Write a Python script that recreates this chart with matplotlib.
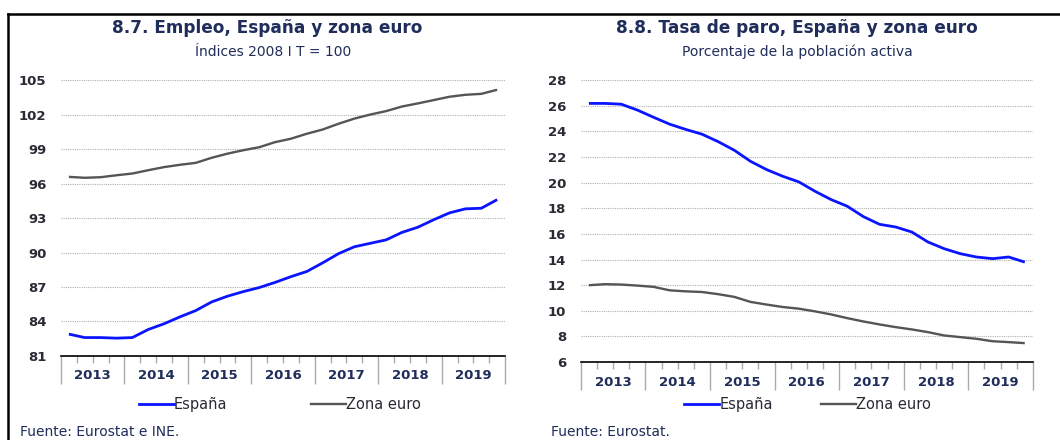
import numpy as np
import matplotlib
matplotlib.use('Agg')
import matplotlib.pyplot as plt
from matplotlib.lines import Line2D
from matplotlib.transforms import blended_transform_factory

# Datos trimestrales 2013 I T - 2019 IV T
years = ['2013', '2014', '2015', '2016', '2017', '2018', '2019']

empleo_espana = [82.9, 82.6, 82.6, 82.55, 82.6, 83.3, 83.8, 84.4,
                 84.95, 85.7, 86.2, 86.6, 86.95, 87.4, 87.9, 88.35,
                 89.1, 89.9, 90.5, 90.8, 91.1, 91.75, 92.2, 92.85,
                 93.45, 93.8, 93.85, 94.6]
empleo_euro = [96.58, 96.5, 96.55, 96.72, 96.87, 97.16, 97.43, 97.63,
               97.8, 98.24, 98.6, 98.9, 99.16, 99.6, 99.9, 100.33,
               100.7, 101.2, 101.65, 102.0, 102.3, 102.7, 102.97, 103.26,
               103.55, 103.72, 103.8, 104.16]

paro_espana = [26.18, 26.18, 26.12, 25.66, 25.1, 24.56, 24.15, 23.78,
               23.2, 22.53, 21.67, 21.02, 20.5, 20.06, 19.33, 18.68,
               18.16, 17.35, 16.75, 16.54, 16.15, 15.37, 14.85, 14.46,
               14.2, 14.07, 14.2, 13.8]
paro_euro = [12.0, 12.08, 12.05, 11.97, 11.87, 11.6, 11.52, 11.47,
             11.3, 11.09, 10.7, 10.49, 10.3, 10.17, 9.96, 9.72,
             9.43, 9.17, 8.94, 8.73, 8.55, 8.34, 8.08, 7.95,
             7.82, 7.63, 7.56, 7.48]

empleo_ticks = [81, 84, 87, 90, 93, 96, 99, 102, 105]
paro_ticks = [6, 8, 10, 12, 14, 16, 18, 20, 22, 24, 26, 28]

TXT = '#1f2d5a'
TICK = '#2a2a35'
AZUL = '#0a14ff'
GRIS = '#555555'

plt.rcParams['font.family'] = ['DejaVu Sans']

fig = plt.figure(figsize=(10.6, 4.4), dpi=100)


def panel(ax, s1, s2, ticks):
    n = len(s1)
    x = np.arange(n)
    ax.plot(x, s2, color=GRIS, lw=1.7, solid_capstyle='butt')
    ax.plot(x, s1, color=AZUL, lw=2.0, solid_capstyle='butt')
    ax.set_xlim(-0.5, n - 0.5)
    ax.set_ylim(ticks[0], ticks[-1])
    ax.set_yticks(ticks)
    ax.set_yticklabels([str(t) for t in ticks], fontsize=9.5, fontweight='bold', color=TICK)
    ax.tick_params(axis='y', length=0, pad=10.5)
    for t in ticks[1:]:
        ax.axhline(t, color='#b0b0b0', lw=0.8, ls=(0, (1, 1)), zorder=0)
    for s in ['left', 'right', 'top']:
        ax.spines[s].set_visible(False)
    ax.spines['bottom'].set_color('black')
    ax.spines['bottom'].set_linewidth(1.2)
    # separadores de año y trimestres
    ax.set_xticks(np.arange(-0.5, n, 4))
    ax.set_xticklabels([])
    ax.set_xticks([q for q in np.arange(0.5, n - 1, 1) if (q + 0.5) % 4 != 0], minor=True)
    ax.tick_params(axis='x', which='major', length=20, width=1.0, color='#aaaaaa', direction='out')
    ax.tick_params(axis='x', which='minor', length=5, width=1.0, color='#aaaaaa', direction='out')
    tr = blended_transform_factory(ax.transData, ax.transAxes)
    for i, y in enumerate(years):
        ax.text(1.5 + 4 * i, -0.072, y, transform=tr, ha='center', va='center',
                fontsize=9.5, fontweight='bold', color=TXT)


ax1 = fig.add_axes([0.0575, 0.191, 0.419, 0.627])
panel(ax1, empleo_espana, empleo_euro, empleo_ticks)
ax2 = fig.add_axes([0.548, 0.177, 0.4264, 0.641])
panel(ax2, paro_espana, paro_euro, paro_ticks)

# títulos
fig.text(0.252, 0.936, '8.7. Empleo, España y zona euro', ha='center', va='center',
         fontsize=12.2, fontweight='bold', color=TXT)
fig.text(0.258, 0.882, 'Índices 2008 I T = 100', ha='center', va='center',
         fontsize=10, color=TXT)
fig.text(0.752, 0.936, '8.8. Tasa de paro, España y zona euro', ha='center', va='center',
         fontsize=12.2, fontweight='bold', color=TXT)
fig.text(0.752, 0.882, 'Porcentaje de la población activa', ha='center', va='center',
         fontsize=10, color=TXT)

# leyendas
handles = [Line2D([], [], color=AZUL, lw=2.0), Line2D([], [], color=GRIS, lw=1.7)]
for cx, cs in [(0.264, 5.75), (0.762, 3.3)]:
    fig.legend(handles, ['España', 'Zona euro'], loc='center', bbox_to_anchor=(cx, 0.08),
               ncol=2, frameon=False, fontsize=10.5, handlelength=2.4, handletextpad=0.0,
               columnspacing=cs, labelcolor=TICK)

# fuentes
fig.text(0.019, 0.018, 'Fuente: Eurostat e INE.', ha='left', va='center', fontsize=10, color=TXT)
fig.text(0.52, 0.018, 'Fuente: Eurostat.', ha='left', va='center', fontsize=10, color=TXT)

# marco
fig.add_artist(Line2D([0.008, 1.0], [0.969, 0.969], color='black', lw=1.8, transform=fig.transFigure))
fig.add_artist(Line2D([0.008, 0.008], [0.0, 0.969], color='black', lw=1.8, transform=fig.transFigure))

fig.savefig('out.png', dpi=100)
